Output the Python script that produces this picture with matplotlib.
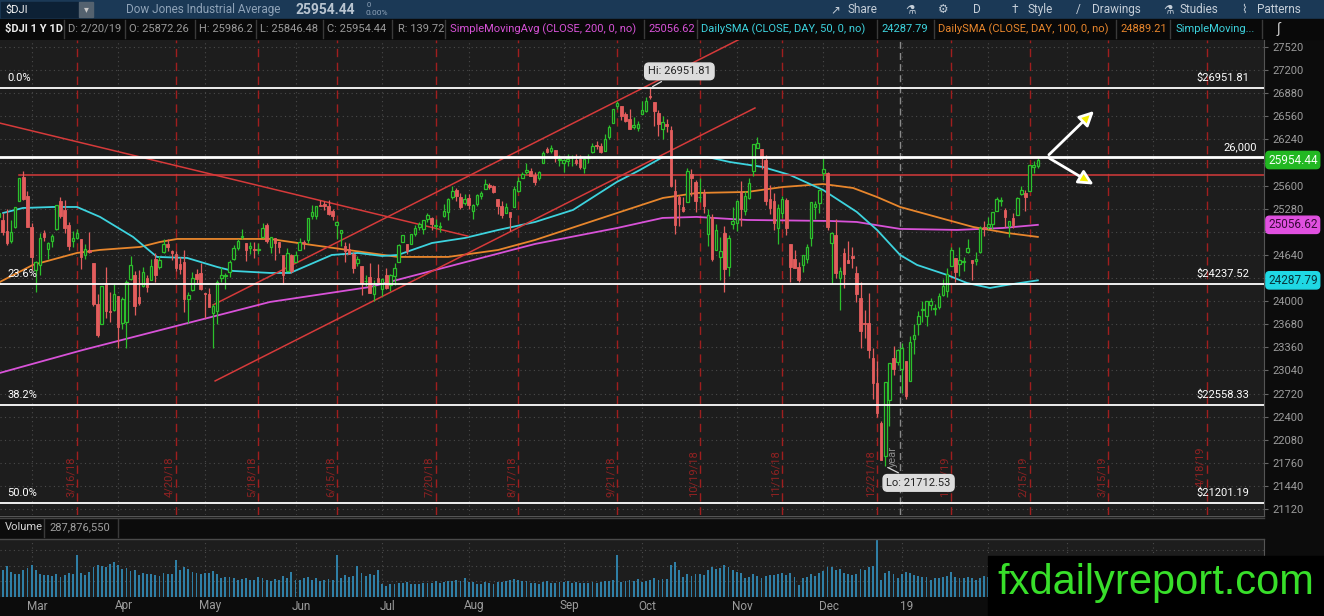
"""$DJI 1Y daily chart (thinkorswim style) with fib levels, SMAs, trend lines and volume."""

import matplotlib
matplotlib.use("Agg")
import matplotlib.pyplot as plt
import matplotlib.transforms as mtransforms
from matplotlib.patches import Rectangle, FancyArrowPatch
from matplotlib.lines import Line2D
import numpy as np
import pandas as pd

W, H = 1324, 616
FIG_BG = "#0c0c0c"
PANEL_BG = "#1d1d1d"
UP = "#2cc02c"
DOWN = "#e35d5d"
CYAN = "#3dd3de"
ORANGE = "#e8862c"
MAGENTA = "#d852d8"
EXP_RED = "#a01e1e"
FONT = ["Roboto", "DejaVu Sans"]

HOLIDAYS = ["2018-02-19", "2018-03-30", "2018-05-28", "2018-07-04", "2018-09-03",
            "2018-11-22", "2018-12-05", "2018-12-25", "2019-01-01", "2019-01-21",
            "2019-02-18", "2019-04-19"]
EXPIRY = ["2018-03-16", "2018-04-20", "2018-05-18", "2018-06-15", "2018-07-20",
          "2018-08-17", "2018-09-21", "2018-10-19", "2018-11-16", "2018-12-21",
          "2019-01-18", "2019-02-15", "2019-03-15", "2019-04-18"]

# daily bars 2/16/18 .. 2/20/19
OPEN = [25165, 25124, 24970, 24828, 25031, 25385, 25715, 25462,
        25025, 24430, 24502, 24939, 24715, 24826, 24997, 25391, 25257, 25059, 24826, 24878, 24867, 24642, 24705, 24522, 23958, 23688, 24246, 23852, 23874,
        24076, 23694, 23716, 24304, 24357, 24050, 24213, 24320, 24293, 24587, 24469, 24674, 24789, 24700, 24656, 24513, 24535, 24035, 24148, 24380, 24396,
        24118, 24097, 23836, 23864, 24317, 24341, 24399, 24584, 24738, 24889, 24804, 24729, 24719, 24707, 24883, 25048, 24754, 24877, 24813, 24640, 24419, 24643,
        24542, 24712, 24825, 24843, 25174, 25181, 25336, 25346, 25322, 25250, 25054, 24945, 24769, 24718, 24649, 24523, 24488, 24273, 24337, 24095, 24320,
        24161, 24357, 24221, 24349, 24546, 24813, 24787, 24785, 24925, 25025, 25003, 25140, 25152, 25034, 25033, 25178, 25240, 25438, 25538, 25446, 25357,
        25432, 25245, 25350, 25456, 25557, 25603, 25594, 25421, 25321, 25219, 25228, 25307, 25527, 25709, 25784, 25801, 25752, 25705, 25907, 26106, 26078, 26092, 25955,
        25917, 25944, 25990, 25955, 25975, 25839, 25986, 26070, 26158, 26155, 26078, 26277, 26461, 26698, 26704, 26587, 26518, 26413, 26392,
        26598, 26629, 26833, 26764, 26603, 26378, 26454, 26369, 25524, 25448, 25297, 25369, 25757, 25656, 25441, 25500, 24935, 25166, 24708, 24612, 24939, 24474, 25066,
        25080, 25515, 25253, 25432, 25805, 26114, 26109, 25956, 25419, 25388, 25018, 25223, 25402, 24797, 24588, 24474, 24507, 24590, 24874, 25303, 25356,
        25779, 25781, 24805, 24918, 24315, 24666, 24574, 24623, 24394, 24049, 23693, 23702, 23218, 22871, 22317, 21857, 22629, 23213, 23153,
        23058, 23177, 22894, 23474, 23680, 23878, 23787, 23941, 23887, 23914, 24082, 24134, 24484, 24591, 24509, 24548, 24685, 24566, 24550, 24675, 25026,
        25025, 25062, 25250, 25390, 25265, 25042, 25151, 25196, 25488, 25496, 25527, 25862, 25872.26]
HIGH = [25432, 25217, 25273, 25122, 25310, 25709, 25800, 25521,
        25079, 24558, 24940, 24991, 24822, 24929, 25336, 25449, 25402, 25095, 24973, 25004, 24867, 24790, 24954, 24522, 24092, 24211, 24466, 24127, 24236,
        24076, 24058, 24298, 24620, 24421, 24432, 24473, 24357, 24581, 24660, 24620, 24858, 24859, 24709, 24693, 24606, 24703, 24125, 24402, 24443, 24534,
        24118, 24179, 23953, 24297, 24479, 24393, 24569, 24784, 24857, 25004, 24804, 24815, 24825, 24798, 25086, 25083, 24887, 24877, 24824, 24640, 24738, 24648,
        24696, 24868, 24852, 25146, 25326, 25318, 25402, 25388, 25396, 25277, 25110, 24987, 24825, 24803, 24682, 24626, 24488, 24367, 24527, 24289, 24509,
        24326, 24462, 24374, 24527, 24789, 24920, 24787, 24924, 25061, 25094, 25126, 25215, 25162, 25137, 25101, 25339, 25427, 25595, 25563, 25491, 25479,
        25488, 25351, 25477, 25520, 25692, 25640, 25613, 25421, 25393, 25361, 25228, 25591, 25719, 25789, 25916, 25844, 25794, 25809, 26074, 26133, 26167, 26092, 26018,
        25968, 26038, 26024, 26037, 26021, 25988, 26038, 26186, 26211, 26189, 26320, 26440, 26657, 26770, 26704, 26614, 26660, 26550, 26493,
        26771, 26828, 26951.81, 26764, 26654, 26561, 26521, 26427, 25689, 25463, 25446, 25840, 25828, 25681, 25705, 25551, 25282, 25202, 25067, 24885, 25041, 24922, 25310,
        25403, 25670, 25524, 25704, 26181, 26277, 26109, 26022, 25611, 25504, 25348, 25458, 25423, 24797, 24713, 24544, 24640, 24796, 25367, 25387, 25538,
        25981, 25784, 24964, 25142, 24467, 24740, 24831, 24751, 24489, 24266, 23879, 24113, 23344, 23174, 22339, 22878, 23139, 23381, 23333,
        23413, 23177, 23518, 23687, 23864, 24002, 24001, 24040, 23956, 24110, 24311, 24458, 24756, 24591, 24749, 24614, 24856, 24566, 24675, 25045, 25109,
        25165, 25239, 25441, 25440, 25283, 25107, 25220, 25443, 25597, 25543, 25883, 25939, 25986.2]
LOW = [25149, 24915, 24784, 24806, 25011, 25385, 25402, 25026,
       24431, 24120, 24364, 24833, 24587, 24745, 24979, 25149, 24946, 24712, 24744, 24856, 24451, 24588, 24667, 23929, 23509, 23688, 23771, 23708, 23864,
       23345, 23614, 23355, 24291, 23807, 23950, 24192, 24131, 24290, 24263, 24438, 24665, 24693, 24565, 24417, 24377, 23846, 23697, 24144, 24249, 24156,
       23768, 23920, 23344, 23683, 24262, 24169, 24336, 24571, 24702, 24854, 24562, 24655, 24593, 24653, 24877, 24805, 24663, 24575, 24669, 24241, 24419, 24392,
       24536, 24703, 24721, 24810, 25136, 25142, 25311, 25257, 25193, 25126, 24862, 24762, 24542, 24648, 24387, 24487, 24085, 24212, 24106, 23997, 24260,
       24077, 24162, 24138, 24225, 24545, 24813, 24653, 24785, 24907, 24980, 24925, 25102, 24990, 25000, 24962, 25159, 25120, 25420, 25389, 25273, 25327,
       25275, 25144, 25320, 25418, 25557, 25552, 25497, 25203, 25149, 25219, 24966, 25307, 25517, 25709, 25767, 25733, 25611, 25675, 25907, 26053, 26049, 25931, 25878,
       25786, 25865, 25874, 25880, 25826, 25771, 25915, 26058, 26108, 26056, 26078, 26250, 26461, 26656, 26504, 26479, 26384, 26389, 26354,
       26598, 26619, 26802, 26422, 26285, 26241, 26345, 25581, 24931, 25044, 25237, 25369, 25461, 25236, 25366, 25225, 24766, 24558, 24708, 24286, 24123, 24346, 24998,
       24970, 25034, 25198, 25418, 25727, 26114, 25826, 25328, 25211, 24980, 24796, 25150, 24916, 24268, 24452, 24268, 24406, 24534, 24757, 25133, 25219,
       25679, 24989, 24243, 24319, 23881, 24181, 24527, 24462, 23990, 23344, 23491, 23206, 22640, 22396, 21792, 21712.53, 22267, 22982, 23118,
       22733, 22639, 22894, 23266, 23530, 23713, 23660, 23878, 23804, 23890, 24067, 24050, 24483, 24264, 24354, 24419, 24666, 24299, 24498, 24666, 24900,
       24994, 24996, 25250, 25323, 25022, 24883, 25009, 25196, 25472, 25254, 25527, 25779, 25846.48]
CLOSE = [25219, 24964, 24798, 24962, 25310, 25709, 25410, 25029,
         24608, 24538, 24874, 24884, 24801, 24895, 25336, 25179, 25008, 24759, 24873, 24946, 24611, 24728, 24683, 23958, 23533, 24203, 23857, 23849, 24103,
         23644, 24034, 24264, 24505, 23933, 23979, 24408, 24190, 24484, 24360, 24573, 24787, 24748, 24665, 24463, 24448, 24025, 24084, 24323, 24311, 24163,
         24100, 23925, 23930, 24263, 24357, 24361, 24543, 24740, 24831, 24900, 24707, 24769, 24714, 24715, 25013, 24834, 24887, 24811, 24753, 24362, 24668, 24416,
         24635, 24814, 24800, 25146, 25241, 25317, 25322, 25320, 25201, 25175, 25090, 24987, 24700, 24657, 24461, 24580, 24252, 24283, 24117, 24216, 24271,
         24307, 24175, 24357, 24456, 24776, 24920, 24700, 24924, 25019, 25064, 25120, 25199, 25065, 25058, 25044, 25242, 25415, 25527, 25451, 25307, 25415,
         25333, 25327, 25463, 25502, 25629, 25583, 25509, 25313, 25188, 25300, 25162, 25558, 25669, 25758, 25822, 25733, 25656, 25790, 26049, 26064, 26124, 25986, 25964,
         25952, 25974, 25995, 25916, 25857, 25971, 25998, 26145, 26154, 26062, 26246, 26405, 26657, 26743, 26562, 26492, 26385, 26440, 26458,
         26651, 26774, 26828, 26627, 26447, 26486, 26431, 25599, 25053, 25340, 25250, 25799, 25706, 25380, 25444, 25317, 25191, 24583, 24985, 24689, 24443, 24875, 25116,
         25381, 25271, 25462, 25636, 26181, 26191, 25989, 25388, 25287, 25081, 25290, 25413, 25018, 24466, 24465, 24286, 24640, 24749, 25367, 25339, 25538,
         25826, 25027, 24947, 24389, 24423, 24370, 24527, 24597, 24101, 23592, 23676, 23324, 22859, 22445, 21792, 22878, 23139, 23062, 23327,
         23346, 22686, 23433, 23531, 23787, 23879, 24001, 23996, 23910, 24066, 24207, 24370, 24706, 24404, 24575, 24553, 24737, 24528, 24580, 25014, 24999,
         25064, 25239, 25411, 25390, 25169, 25106, 25053, 25425, 25543, 25439, 25883, 25891, 25954.44]
VOLUME_M = [420, 470, 530, 430, 390, 400, 470, 500,
            560, 470, 390, 380, 380, 370, 400, 350, 380, 420, 400, 730, 420, 380, 430, 520, 560, 540, 520, 570, 600,
            560, 480, 500, 450, 470, 380, 420, 400, 390, 380, 360, 410, 400, 390, 640, 460, 520, 480, 430, 420, 400,
            420, 410, 440, 390, 330, 350, 340, 330, 300, 310, 330, 300, 290, 340, 320, 300, 280, 310, 290, 360, 330, 430,
            300, 300, 330, 340, 300, 320, 280, 300, 310, 300, 730, 330, 380, 350, 360, 530, 420, 360, 390, 380, 460,
            230, 190, 230, 220, 250, 240, 260, 230, 220, 230, 240, 250, 250, 280, 240, 260, 270, 280, 300, 280, 320,
            260, 260, 230, 220, 260, 240, 230, 260, 260, 280, 300, 310, 300, 270, 280, 250, 250, 230, 260, 270, 250, 240, 260,
            260, 270, 250, 260, 250, 240, 250, 260, 250, 260, 280, 270, 300, 730, 260, 270, 300, 280, 310,
            260, 280, 300, 320, 300, 310, 310, 560, 600, 470, 350, 400, 360, 390, 400, 380, 470, 520, 480, 500, 550, 520, 470,
            430, 420, 330, 350, 400, 360, 320, 360, 380, 380, 400, 410, 380, 420, 350, 200, 330, 340, 400, 370, 420,
            440, 520, 520, 470, 480, 420, 400, 380, 400, 480, 470, 520, 540, 980, 290, 420, 450, 390, 330,
            390, 430, 410, 380, 370, 350, 340, 300, 320, 330, 340, 360, 430, 340, 320, 330, 350, 320, 290, 330, 360,
            340, 330, 340, 320, 330, 330, 330, 350, 330, 370, 430, 330, 287.87655]

# moving averages: (bar index, value)
SMA50_X = [1.1, 5.9, 13.2, 19.0, 24.6, 32.6, 38.4, 45.7, 53.0, 56.8, 65.8, 70.7, 80.8, 87.1, 93.0,
           96.8, 105.1, 113.1, 121.1, 130.1, 139.3, 149.9, 155.5, 161.1, 165.2, 171.8, 177.3, 185.3,
           191.9, 199.9, 208.1, 213.0, 218.6, 222.7, 230.0, 234.8, 240.4, 244.5, 252.0]
SMA50_Y = [25221, 25290, 25304, 25304, 25166, 24889, 24612, 24598, 24473, 24418, 24390, 24390, 24639,
           24667, 24625, 24639, 24805, 24875, 24985, 25096, 25263, 25650, 25816, 25997, 25997, 25997,
           25927, 25858, 25747, 25540, 25235, 24986, 24639, 24501, 24362, 24251, 24182, 24224, 24287.79]
SMA100_X = [0.3, 8.3, 19.0, 24.6, 34.3, 39.1, 43.3, 65.8, 72.6, 84.7, 96.8, 109.0, 121.1, 130.1,
            150.0, 161.1, 169.3, 181.5, 190.2, 199.9, 207.2, 213.0, 218.6, 228.3, 236.3, 244.5, 252.0]
SMA100_Y = [24265, 24501, 24667, 24709, 24750, 24819, 24861, 24861, 24805, 24708, 24612, 24612, 24708,
            24847, 25221, 25429, 25498, 25512, 25581, 25622, 25567, 25442, 25304, 25152, 25027, 24944, 24889.21]
SMA200_X = [0.3, 20.5, 65.8, 90.1, 130.1, 150.0, 161.0, 169.3, 181.5, 201.6, 208.1, 218.6, 232.4, 243.5, 252.0]
SMA200_Y = [23005, 23324, 23988, 24196, 24792, 25013, 25152, 25166, 25124, 25110, 25096, 25000, 24986,
            25013, 25056.62]

FIB_PCT = ["0.0%", "23.6%", "38.2%", "50.0%"]
FIB_PRICE = [26951.81, 24237.52, 22558.33, 21201.19]
KEY_LEVEL = 26000
RESIST_START, RESIST_PRICE = 5, 25750
TREND_LINES = [((0.0, 26470), (113.8, 24900)),
               ((52.5, 22894), (183.4, 26675)),
               ((52.0, 23947), (184.6, 27770))]
ARROW_FROM = (254.2, 26000)
ARROW_TIPS = [(266.1, 26661), (266.1, 25595)]
HI_BAR, LO_BAR = 158, 215

# pixel geometry of the screenshot
X_OFF, PX_BAR = -1.4, 4.124
PLOT_R, MAIN_T, MAIN_B = 1264, 40, 515
VOL_T, VOL_B = 539, 597
WATERMARK_X, WATERMARK_Y = 988, 556
FIB_TEXT_X = 1195  # right-hand fib price texts start about here


def price_at(ypx):
    return 27520 - (ypx - 47) * 6400 / 462


def box(x0, y0, x1, y1):
    return [x0 / W, 1 - y1 / H, (x1 - x0) / W, (y1 - y0) / H]


def ftxt(fig, x, y, s, **kw):
    kw.setdefault("family", FONT)
    kw.setdefault("va", "center")
    fig.text(x / W, 1 - y / H, s, **kw)


def fline(fig, xs, ys, color, lw=1.0):
    fig.add_artist(Line2D([x / W for x in xs], [1 - y / H for y in ys],
                          color=color, lw=lw, transform=fig.transFigure))


def frect(fig, x0, y0, x1, y1, color, z=0):
    fig.add_artist(Rectangle((x0 / W, 1 - y1 / H), (x1 - x0) / W, (y1 - y0) / H,
                             transform=fig.transFigure, color=color, zorder=z))


def header(fig):
    frect(fig, 0, 0, W, 18.5, "#1b3956")
    frect(fig, 1, 1.5, 78, 17, "#0d2135")
    frect(fig, 79, 1.5, 93, 17, "#54626f")
    ftxt(fig, 5, 9.5, "$DJI", color="#f0f0f0", size=8)
    ftxt(fig, 86, 9.5, "\u25be", color="#c8c8c8", size=7, ha="center")
    ftxt(fig, 126, 9.5, "Dow Jones Industrial Average", color="#8fa3b8", size=8.5)
    ftxt(fig, 295, 9.5, "25954.44", color="#b8c4d0", size=10, weight="bold")
    ftxt(fig, 367, 5, "0", color="#8fa3b8", size=5.5)
    ftxt(fig, 366, 13, "0.00%", color="#8fa3b8", size=6)
    for x, s in [(830, "\u2197"), (848, "Share"), (905, "\u2697"), (938, "\u2699"), (973, "D"),
                 (1012, "\u2020"), (1028, "Style"), (1076, "/"), (1092, "Drawings"),
                 (1163, "\u2697"), (1179, "Studies"), (1241, "\u2307"), (1257, "Patterns")]:
        ftxt(fig, x, 9.5, s, color="#c5ced8", size=8.5)

    frect(fig, 0, 19, W, 39, "#090909")
    items = [(5, "$DJI 1 Y 1D", "#ececec", "bold"), (68, "D: 2/20/19", "#9a9a9a", "normal"),
             (129, "O: 25872.26", "#9a9a9a", "normal"), (199, "H: 25986.2", "#9a9a9a", "normal"),
             (260, "L: 25846.48", "#9a9a9a", "normal"), (327, "C: 25954.44", "#9a9a9a", "normal"),
             (398, "R: 139.72", "#9a9a9a", "normal"),
             (450, "SimpleMovingAvg (CLOSE, 200, 0, no)", MAGENTA, "normal"),
             (648, "25056.62", MAGENTA, "normal"),
             (701, "DailySMA (CLOSE, DAY, 50, 0, no)", CYAN, "normal"),
             (881, "24287.79", CYAN, "normal"),
             (938, "DailySMA (CLOSE, DAY, 100, 0, no)", ORANGE, "normal"),
             (1120, "24889.21", ORANGE, "normal"),
             (1175, "SimpleMoving...", CYAN, "normal")]
    for x, s, c, wgt in items:
        ftxt(fig, x, 29, s, color=c, size=8, weight=wgt)
    for x in [64, 125, 195, 256, 323, 392, 445, 644, 697, 877, 934, 1116, 1170, 1262]:
        fline(fig, [x, x], [20, 38], "#3a3a3a")
    ftxt(fig, 1277, 29, "\u222b", color="#cfcfcf", size=10)


def main():
    cal = pd.bdate_range("2018-02-16", "2019-04-30", freq="C", holidays=HOLIDAYS)
    n = len(CLOSE)
    assert len(OPEN) == len(HIGH) == len(LOW) == len(VOLUME_M) == n
    x = np.arange(n)
    o, h, l, c = (np.array(a, float) for a in (OPEN, HIGH, LOW, CLOSE))

    xlim = ((0 - X_OFF) / PX_BAR, (PLOT_R - X_OFF) / PX_BAR)
    pos = pd.Series(np.arange(len(cal)), index=cal)
    month_idx = pos.groupby([cal.year, cal.month]).first()
    month_idx = month_idx[(month_idx > xlim[0]) & (month_idx < xlim[1])]
    month_lbl = ["19" if cal[i].month == 1 else cal[i].strftime("%b") for i in month_idx]

    fig = plt.figure(figsize=(W / 100, H / 100), dpi=100, facecolor=FIG_BG)
    header(fig)

    ax = fig.add_axes(box(0, MAIN_T, PLOT_R, MAIN_B), facecolor=PANEL_BG)
    ax.set_xlim(*xlim)
    ax.set_ylim(price_at(MAIN_B), price_at(MAIN_T))
    tags = [(CLOSE[-1], "#22b822", "#f4fff4"), (SMA200_Y[-1], "#e050e0", "#3a0a3a"),
            (SMA50_Y[-1], "#1fd8e4", "#06343a")]
    ticks = np.arange(21120, 27521, 320)
    # thinkorswim hides the scale labels sitting under a price tag
    tick_lbl = ["" if any(abs(t - v) < 100 for v, _, _ in tags) else str(t) for t in ticks]
    ax.yaxis.tick_right()
    ax.set_yticks(ticks)
    ax.set_yticklabels(tick_lbl, family=FONT)
    ax.tick_params(axis="y", labelsize=8, labelcolor="#9c9c9c", color="#666666", length=3, pad=3)
    ax.set_xticks([])
    for s in ["left", "top", "bottom"]:
        ax.spines[s].set_visible(False)
    ax.spines["right"].set_color("#555555")

    dots = (0, (1, 3))
    for t in ticks:
        ax.axhline(t, color="#4a4a4a", lw=0.8, ls=dots, zorder=0)
    for m in month_idx:
        ax.axvline(m, color="#4a4a4a", lw=0.8, ls=dots, zorder=0)

    blend = mtransforms.blended_transform_factory(ax.transData, ax.transAxes)
    for d in EXPIRY:
        i = pos[pd.Timestamp(d)]
        ax.axvline(i, color=EXP_RED, lw=1, ls=(0, (6, 4)), zorder=1)
        ts = pd.Timestamp(d)
        # labels under the right-hand fib texts sit a little higher
        bottom_px = 487 if X_OFF + PX_BAR * i > FIB_TEXT_X else 497
        ax.text(i - 0.35, (MAIN_B - bottom_px) / (MAIN_B - MAIN_T),
                f"{ts.month}/{ts.day}/{ts.strftime('%y')}",
                transform=blend, rotation=90, ha="right", va="bottom", color="#8e2222",
                size=8, family=FONT, zorder=1)
    year_x = pos[pd.Timestamp("2018-12-31")] + 0.5
    ax.axvline(year_x, color="#8a8a8a", lw=1, ls=(0, (5, 3)), zorder=1)
    ax.text(year_x - 0.4, (MAIN_B - 467) / (MAIN_B - MAIN_T), "year", transform=blend, rotation=90,
            ha="right", va="bottom", color="#8a8a8a", size=8, family=FONT, zorder=1)

    ax.plot(SMA200_X, SMA200_Y, color=MAGENTA, lw=1.3, zorder=2)
    ax.plot(SMA100_X, SMA100_Y, color=ORANGE, lw=1.3, zorder=2)
    ax.plot(SMA50_X, SMA50_Y, color=CYAN, lw=1.3, zorder=2)

    for (x0, p0), (x1, p1) in TREND_LINES:
        ax.plot([x0, x1], [p0, p1], color="#d63a3a", lw=1.1, zorder=2)
    ax.plot([RESIST_START, xlim[1]], [RESIST_PRICE, RESIST_PRICE], color="#d63a3a", lw=1.1, zorder=2)

    up = c >= o
    colors = np.where(up, UP, DOWN)
    ax.vlines(x, l, h, colors=colors, lw=0.9, zorder=3)
    body = np.maximum(np.abs(c - o), 8)
    ax.bar(x[up], body[up], bottom=np.minimum(o, c)[up], width=0.62, facecolor=PANEL_BG,
           edgecolor=UP, lw=0.9, zorder=4)
    ax.bar(x[~up], body[~up], bottom=np.minimum(o, c)[~up], width=0.62, facecolor=DOWN,
           edgecolor=DOWN, lw=0.6, zorder=4)

    for pct, p in zip(FIB_PCT, FIB_PRICE):
        ax.axhline(p, color="white", lw=1.3, zorder=5)
        ax.annotate(pct, (7 / PLOT_R, p), xycoords=("axes fraction", "data"), xytext=(0, 3.5),
                    textcoords="offset points", color="white", size=8, family=FONT, va="bottom")
        ax.annotate(f"${p:.2f}", (1249 / PLOT_R, p), xycoords=("axes fraction", "data"),
                    xytext=(0, 3.5), textcoords="offset points", color="white", size=8,
                    family=FONT, va="bottom", ha="right")
    ax.axhline(KEY_LEVEL, color="white", lw=2, zorder=5)
    ax.annotate(f"{KEY_LEVEL:,}", (1257 / PLOT_R, KEY_LEVEL), xycoords=("axes fraction", "data"),
                xytext=(0, 3.5), textcoords="offset points", color="white", size=8,
                family=FONT, va="bottom", ha="right")

    for tip in ARROW_TIPS:
        ax.add_patch(FancyArrowPatch(ARROW_FROM, tip, arrowstyle="-|>", mutation_scale=22,
                                     lw=2, edgecolor="white", facecolor="#f6ef00", zorder=6))

    tag_kw = dict(family=FONT, size=8.5, va="center", ha="left", clip_on=False, zorder=10)
    rblend = mtransforms.blended_transform_factory(ax.transAxes, ax.transData)
    for val, fc, tc in tags:
        ax.text(1 + 4 / PLOT_R, val, f"{val:.2f}", transform=rblend, color=tc,
                bbox=dict(boxstyle="round,pad=0.18,rounding_size=0.3", fc=fc, ec=fc), **tag_kw)

    lbl = dict(size=8, family=FONT, color="#222222", ha="center", va="center", zorder=9,
               bbox=dict(boxstyle="round,pad=0.3,rounding_size=0.4", fc="#dcdcdc", ec="#dcdcdc"),
               arrowprops=dict(arrowstyle="-", color="#dcdcdc", lw=0.9))
    ax.annotate(f"Hi: {h[HI_BAR]:.2f}", (HI_BAR, h[HI_BAR]), xytext=(21, 12),
                textcoords="offset points", **lbl)
    ax.annotate(f"Lo: {l[LO_BAR]:.2f}", (LO_BAR, l[LO_BAR]), xytext=(24, -12),
                textcoords="offset points", **lbl)

    # panel borders
    fline(fig, [0, PLOT_R], [MAIN_B + 0.5, MAIN_B + 0.5], "#555555")
    fline(fig, [0, PLOT_R], [MAIN_B + 3, MAIN_B + 3], "#444444")
    fline(fig, [0, PLOT_R], [VOL_T - 0.5, VOL_T - 0.5], "#4a4a4a")
    fline(fig, [44, 44], [519, 537], "#3a3a3a")
    fline(fig, [118, 118], [519, 537], "#3a3a3a")
    ftxt(fig, 5, 527.5, "Volume", color="#d6d6d6", size=8)
    ftxt(fig, 49, 527.5, f"{VOLUME_M[-1] * 1e6:,.0f}", color="#a0a0a0", size=8)

    av = fig.add_axes(box(0, VOL_T, PLOT_R, VOL_B), facecolor=PANEL_BG)
    av.set_xlim(*xlim)
    av.set_ylim(0, 1000)
    av.set_xticks([])
    av.set_yticks([])
    for s in ["left", "top", "bottom"]:
        av.spines[s].set_visible(False)
    av.spines["right"].set_color("#555555")
    for lvl in (270, 540, 810):
        av.axhline(lvl, color="#4a4a4a", lw=0.8, ls=dots, zorder=0)
    for m in month_idx:
        av.axvline(m, color="#4a4a4a", lw=0.8, ls=dots, zorder=0)
    av.bar(x, VOLUME_M, width=0.45, color="#2f7fa6", zorder=2)
    vblend = mtransforms.blended_transform_factory(av.transData, av.transAxes)
    for m, s in zip(month_idx, month_lbl):
        if X_OFF + PX_BAR * (m + 1.3) > WATERMARK_X:
            continue  # hidden behind the watermark
        av.text(m + 1.3, -(606 - VOL_B) / (VOL_B - VOL_T), s, transform=vblend, ha="center",
                va="center", color="#9c9c9c", size=8.5, family=FONT, clip_on=False)

    frect(fig, WATERMARK_X, WATERMARK_Y, W, H, "#000000", z=20)
    fig.text(997 / W, 1 - 594 / H, "fxdailyreport.com", color="#38df2a", size=30,
             family=["Liberation Sans", "DejaVu Sans"], va="baseline", ha="left", zorder=21)

    fig.savefig("out.png", dpi=100, facecolor=fig.get_facecolor())
    plt.close(fig)


if __name__ == "__main__":
    main()
